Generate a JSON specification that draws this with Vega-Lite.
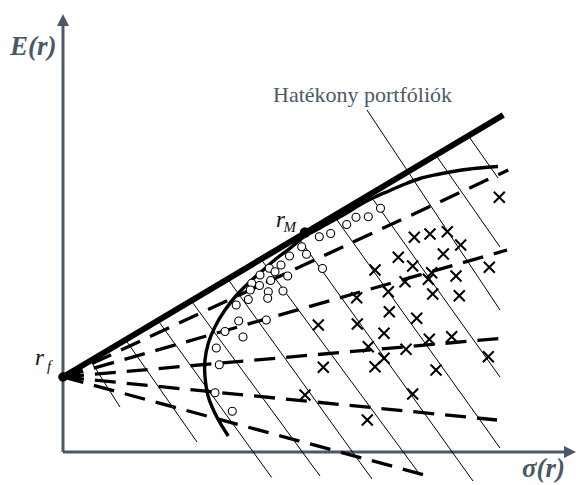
{
  "$schema": "https://vega.github.io/schema/vega-lite/v6.json",
  "width": 576,
  "height": 485,
  "autosize": "none",
  "padding": 0,
  "background": "white",
  "config": {"view": {"stroke": null}},
  "datasets": {
    "axes": [
      {"s": 0, "e": 0, "s2": 50.3, "e2": 0},
      {"s": 0, "e": 0, "s2": 0, "e2": 42.6}
    ],
    "arrowUp": [{"s": 0, "e": 43.2}],
    "arrowRight": [{"s": 50.7, "e": 0}],
    "hatch": [
      {"s": 2.75, "e": 9.14, "s2": 5.7, "e2": 4.5},
      {"s": 6.26, "e": 11.22, "s2": 13.4, "e2": 1.0},
      {"s": 9.5, "e": 13.15, "s2": 20.87, "e2": -2.55},
      {"s": 12.82, "e": 15.13, "s2": 25.7, "e2": -2.4},
      {"s": 16.48, "e": 17.3, "s2": 30.9, "e2": -2.7},
      {"s": 19.79, "e": 19.3, "s2": 35.5, "e2": -2.0},
      {"s": 23.49, "e": 21.5, "s2": 41.0, "e2": -2.9},
      {"s": 27.1, "e": 23.62, "s2": 43.7, "e2": 0.4},
      {"s": 30.66, "e": 25.74, "s2": 43.7, "e2": 7.5},
      {"s": 30.4, "e": 34.2, "s2": 43.7, "e2": 14.2},
      {"s": 37.28, "e": 29.7, "s2": 43.7, "e2": 20.5},
      {"s": 40.54, "e": 31.62, "s2": 43.5, "e2": 27.4}
    ],
    "rays": [
      {"s": 0, "e": 7.5, "s2": 44.53, "e2": 28.2},
      {"s": 0, "e": 7.5, "s2": 44.4, "e2": 20.2},
      {"s": 0, "e": 7.5, "s2": 44.2, "e2": 11.4},
      {"s": 0, "e": 7.5, "s2": 43.4, "e2": 3.2},
      {"s": 0, "e": 7.5, "s2": 36.9, "e2": -2.5}
    ],
    "cml": [{"s": 0, "e": 7.5, "s2": 44.03, "e2": 33.7}],
    "frontier": [
      {"i": 0, "s": 16.53, "e": 1.6},
      {"i": 1, "s": 15.37, "e": 3.53},
      {"i": 2, "s": 14.53, "e": 5.53},
      {"i": 3, "s": 14.2, "e": 7.53},
      {"i": 4, "s": 14.2, "e": 9.2},
      {"i": 5, "s": 14.53, "e": 10.87},
      {"i": 6, "s": 15.2, "e": 12.53},
      {"i": 7, "s": 16.2, "e": 14.2},
      {"i": 8, "s": 17.37, "e": 15.7},
      {"i": 9, "s": 18.7, "e": 17.03},
      {"i": 10, "s": 20.03, "e": 18.2},
      {"i": 11, "s": 21.37, "e": 19.37},
      {"i": 12, "s": 22.7, "e": 20.37},
      {"i": 13, "s": 24.2, "e": 21.6},
      {"i": 14, "s": 25.7, "e": 22.4},
      {"i": 15, "s": 27.2, "e": 23.25},
      {"i": 16, "s": 28.7, "e": 24.1},
      {"i": 17, "s": 30.0, "e": 24.9},
      {"i": 18, "s": 31.2, "e": 25.5},
      {"i": 19, "s": 32.7, "e": 26.15},
      {"i": 20, "s": 34.2, "e": 26.8},
      {"i": 21, "s": 35.7, "e": 27.35},
      {"i": 22, "s": 37.4, "e": 27.75},
      {"i": 23, "s": 39.0, "e": 28.05},
      {"i": 24, "s": 40.7, "e": 28.3},
      {"i": 25, "s": 42.2, "e": 28.45},
      {"i": 26, "s": 43.5, "e": 28.55}
    ],
    "circles": [
      {"s": 31.75, "e": 24.37}, {"s": 30.53, "e": 23.53}, {"s": 29.3, "e": 23.47},
      {"s": 28.37, "e": 22.75}, {"s": 26.77, "e": 21.85}, {"s": 25.63, "e": 21.53},
      {"s": 23.87, "e": 20.53}, {"s": 24.35, "e": 19.78}, {"s": 22.65, "e": 19.6},
      {"s": 25.95, "e": 18.35}, {"s": 21.8, "e": 18.7}, {"s": 20.63, "e": 18.37},
      {"s": 21.2, "e": 18.03}, {"s": 22.47, "e": 17.6}, {"s": 19.7, "e": 17.7},
      {"s": 20.77, "e": 17.15}, {"s": 18.87, "e": 16.87}, {"s": 19.65, "e": 16.65},
      {"s": 18.73, "e": 16.2}, {"s": 20.53, "e": 16.03}, {"s": 22.0, "e": 16.1},
      {"s": 18.53, "e": 15.25}, {"s": 20.47, "e": 15.37}, {"s": 17.32, "e": 14.7},
      {"s": 20.33, "e": 13.2}, {"s": 17.57, "e": 13.1}, {"s": 16.2, "e": 12.05},
      {"s": 18.0, "e": 11.5}, {"s": 15.33, "e": 10.4}, {"s": 15.63, "e": 8.73},
      {"s": 15.2, "e": 5.93}, {"s": 16.93, "e": 4.07}
    ],
    "crosses": [
      {"s": 43.63, "e": 25.47}, {"s": 35.13, "e": 21.47}, {"s": 36.7, "e": 21.8},
      {"s": 38.43, "e": 22.03}, {"s": 39.77, "e": 20.7}, {"s": 38.03, "e": 19.8},
      {"s": 33.53, "e": 19.47}, {"s": 34.97, "e": 18.6}, {"s": 36.87, "e": 17.93},
      {"s": 42.63, "e": 18.47}, {"s": 31.2, "e": 18.2}, {"s": 39.3, "e": 17.6},
      {"s": 36.53, "e": 17.27}, {"s": 34.2, "e": 17.03}, {"s": 32.53, "e": 16.03},
      {"s": 29.37, "e": 15.43}, {"s": 36.97, "e": 15.8}, {"s": 39.63, "e": 15.63},
      {"s": 32.63, "e": 14.03}, {"s": 35.37, "e": 13.37}, {"s": 25.53, "e": 12.7},
      {"s": 29.43, "e": 12.8}, {"s": 32.1, "e": 11.87}, {"s": 36.63, "e": 11.27},
      {"s": 38.87, "e": 11.53}, {"s": 30.53, "e": 10.53}, {"s": 34.3, "e": 10.27},
      {"s": 42.53, "e": 9.53}, {"s": 26.03, "e": 8.47}, {"s": 31.2, "e": 8.53},
      {"s": 32.1, "e": 9.37}, {"s": 37.3, "e": 8.2}, {"s": 24.2, "e": 5.7},
      {"s": 34.97, "e": 5.8}, {"s": 30.43, "e": 3.2}
    ],
    "dots": [
      {"s": 0, "e": 7.5, "sz": 90},
      {"s": 24.2, "e": 21.95, "sz": 110}
    ]
  },
  "encoding": {
    "x": {"field": "s", "type": "quantitative", "scale": {"domain": [-6.3, 51.3], "nice": false, "zero": false}, "axis": null},
    "y": {"field": "e", "type": "quantitative", "scale": {"domain": [-3.3, 45.2], "nice": false, "zero": false}, "axis": null}
  },
  "layer": [
    {
      "data": {"name": "axes"},
      "mark": {"type": "rule", "color": "#4b5967", "strokeWidth": 3},
      "encoding": {"x2": {"field": "s2"}, "y2": {"field": "e2"}}
    },
    {
      "data": {"name": "arrowUp"},
      "mark": {"type": "point", "shape": "M0,-1L1,1L-1,1Z", "filled": true, "color": "#4b5967", "size": 144, "opacity": 1, "strokeWidth": 0}
    },
    {
      "data": {"name": "arrowRight"},
      "mark": {"type": "point", "shape": "M1,0L-1,-1L-1,1Z", "filled": true, "color": "#4b5967", "size": 144, "opacity": 1, "strokeWidth": 0}
    },
    {
      "data": {"name": "hatch"},
      "mark": {"type": "rule", "color": "black", "strokeWidth": 1},
      "encoding": {"x2": {"field": "s2"}, "y2": {"field": "e2"}}
    },
    {
      "data": {"name": "rays"},
      "mark": {"type": "rule", "color": "black", "strokeWidth": 3.3, "strokeDash": [21, 11], "strokeCap": "butt"},
      "encoding": {"x2": {"field": "s2"}, "y2": {"field": "e2"}}
    },
    {
      "data": {"name": "frontier"},
      "mark": {"type": "line", "color": "black", "strokeWidth": 3.4, "interpolate": "catmull-rom"},
      "encoding": {"order": {"field": "i", "type": "quantitative"}}
    },
    {
      "data": {"name": "cml"},
      "mark": {"type": "rule", "color": "black", "strokeWidth": 6, "strokeCap": "butt"},
      "encoding": {"x2": {"field": "s2"}, "y2": {"field": "e2"}}
    },
    {
      "data": {"name": "circles"},
      "mark": {"type": "point", "shape": "circle", "fill": "white", "stroke": "black", "strokeWidth": 1.1, "size": 64, "opacity": 1, "filled": true}
    },
    {
      "data": {"name": "crosses"},
      "mark": {"type": "point", "shape": "M-1,-1L1,1M-1,1L1,-1", "filled": false, "stroke": "black", "strokeWidth": 2, "size": 121, "opacity": 1}
    },
    {
      "data": {"name": "dots"},
      "mark": {"type": "point", "shape": "circle", "filled": true, "color": "black", "opacity": 1},
      "encoding": {"size": {"field": "sz", "type": "quantitative", "scale": null}}
    },
    {
      "data": {"values": [{"s": -5.3, "e": 39.7, "t": "E(r)"}, {"s": 45.9, "e": -2.5, "t": "σ(r)"}]},
      "mark": {"type": "text", "font": "Liberation Serif, Times New Roman, serif", "fontSize": 27, "fontWeight": "bold", "fontStyle": "italic", "color": "#4b5967", "align": "left", "baseline": "alphabetic"},
      "encoding": {"text": {"field": "t"}}
    },
    {
      "data": {"values": [{"s": 21.0, "e": 35.0, "t": "Hatékony portfóliók"}]},
      "mark": {"type": "text", "font": "Liberation Serif, Times New Roman, serif", "fontSize": 22, "color": "#4b5967", "align": "left", "baseline": "alphabetic"},
      "encoding": {"text": {"field": "t"}}
    },
    {
      "data": {"values": [{"s": 21.3, "e": 22.5, "t": "r"}, {"s": -2.8, "e": 8.7, "t": "r"}]},
      "mark": {"type": "text", "font": "Liberation Serif, Times New Roman, serif", "fontSize": 23, "fontStyle": "italic", "color": "#111111", "align": "left", "baseline": "alphabetic"},
      "encoding": {"text": {"field": "t"}}
    },
    {
      "data": {"values": [{"s": 22.05, "e": 22.0, "t": "M"}, {"s": -1.6, "e": 8.1, "t": "f"}]},
      "mark": {"type": "text", "font": "Liberation Serif, Times New Roman, serif", "fontSize": 15, "fontStyle": "italic", "color": "#111111", "align": "left", "baseline": "alphabetic"},
      "encoding": {"text": {"field": "t"}}
    }
  ]
}
